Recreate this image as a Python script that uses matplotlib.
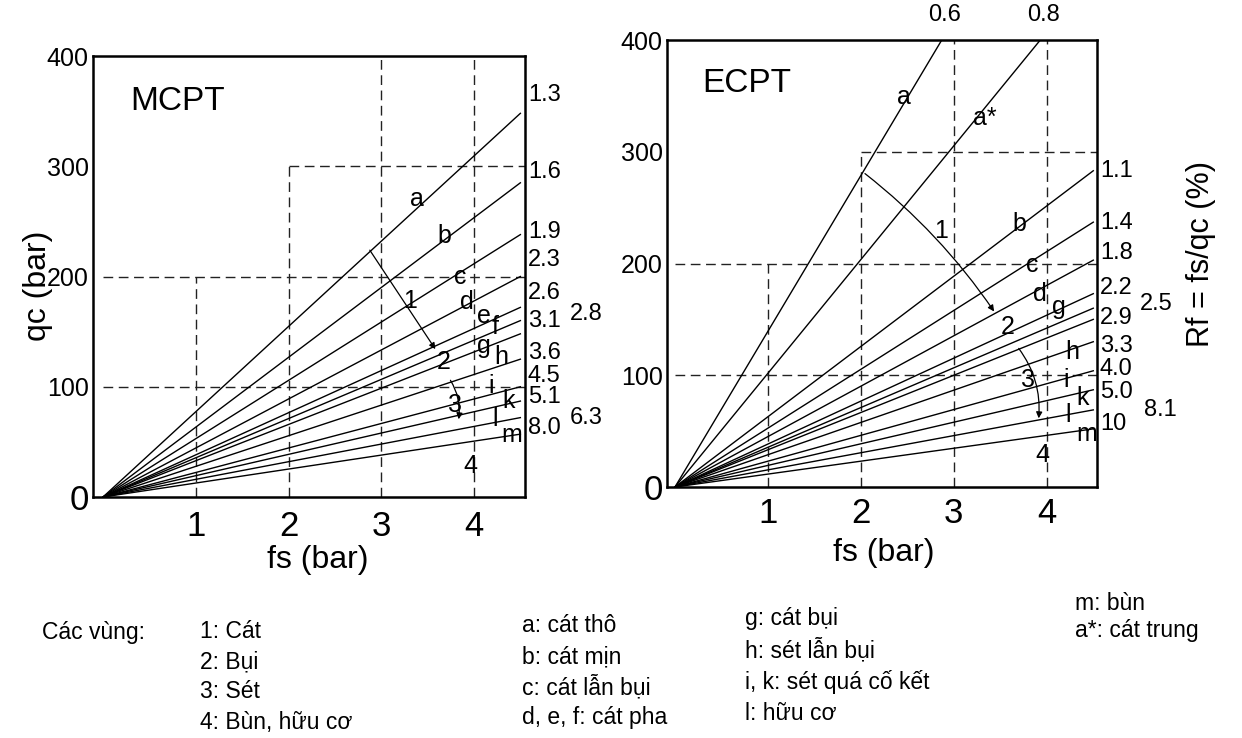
import matplotlib
matplotlib.use("Agg")
import matplotlib.pyplot as plt

plt.rcParams["font.family"] = ["Liberation Sans", "DejaVu Sans"]

# ── data ────────────────────────────────────────────────────────────
MCPT_RF = ["1.3", "1.6", "1.9", "2.3", "2.6", "2.8", "3.1", "3.6", "4.5", "5.1", "6.3", "8.0"]
MCPT_FS_END = [4.5] * 12
MCPT_QC_END = [348, 285, 238, 200, 172, 160, 148, 125, 100, 87, 72, 57]

ECPT_RF = ["0.6", "0.8", "1.1", "1.4", "1.8", "2.2", "2.5", "2.9", "3.3", "4.0", "5.0", "8.1", "10"]
ECPT_FS_END = [2.87, 3.93, 4.5, 4.5, 4.5, 4.5, 4.5, 4.5, 4.5, 4.5, 4.5, 4.5, 4.5]
ECPT_QC_END = [400, 400, 283, 237, 203, 173, 160, 150, 130, 104, 87, 69, 52]

MCPT_ZONES = ["a", "b", "c", "d", "e", "f", "g", "h", "i", "k", "l", "m"]
MCPT_ZONE_FS = [3.39, 3.68, 3.85, 3.92, 4.11, 4.23, 4.11, 4.29, 4.19, 4.37, 4.23, 4.41]
MCPT_ZONE_QC = [270, 237, 200, 177, 164, 154, 137, 127, 101, 87, 71, 56]

ECPT_ZONES = ["a", "a*", "b", "c", "d", "g", "h", "i", "k", "l", "m"]
ECPT_ZONE_FS = [2.46, 3.33, 3.71, 3.84, 3.93, 4.13, 4.27, 4.21, 4.38, 4.23, 4.43]
ECPT_ZONE_QC = [349, 330, 235, 199, 173, 161, 121, 96, 80, 64, 47]

REGIONS = ["1", "2", "3", "4"]
MCPT_REGION_FS = [3.31, 3.67, 3.79, 3.96]
MCPT_REGION_QC = [178, 122, 83, 28]
ECPT_REGION_FS = [2.86, 3.58, 3.80, 3.95]
ECPT_REGION_QC = [229, 143, 96, 29]

# arrow from region 1 to region 2, and from 2 to 3 (start fs, start qc, end fs, end qc)
MCPT_ARROWS = [(2.86, 226, 3.60, 132), (3.73, 108, 3.83, 68)]
ECPT_ARROWS = [(2.02, 282, 3.45, 155), (3.68, 126, 3.91, 59)]

# dashed guide lines: verticals (x, top), horizontals (y, start x)
GUIDE_V = [(1, 200), (2, 300), (3, 400), (4, 400)]
GUIDE_H = [(100, 0), (200, 0), (300, 2)]

X_TICKS = [1, 2, 3, 4]
Y_TICKS = [0, 100, 200, 300, 400]

LEGEND_COLS = [
    ["1: Cát", "2: Bụi", "3: Sét", "4: Bùn, hữu cơ"],
    ["a: cát thô", "b: cát mịn", "c: cát lẫn bụi", "d, e, f: cát pha"],
    ["g: cát bụi", "h: sét lẫn bụi", "i, k: sét quá cố kết", "l: hữu cơ"],
    ["m: bùn", "a*: cát trung"],
]

# label nudges (qc units) so the Rf numbers sit like in the scan
MCPT_NUDGE = {"1.3": 17, "1.6": 10, "1.9": 2, "2.3": 15, "2.6": 13, "2.8": 6, "3.1": 12,
              "3.6": 6, "4.5": 10, "5.1": 4, "6.3": 0, "8.0": 6}
MCPT_OUTER = {"2.8", "6.3"}
ECPT_NUDGE = {"1.1": 0, "1.4": -1, "1.8": 6, "2.2": 5, "2.5": 4, "2.9": 1, "3.3": -4,
              "4.0": 2, "5.0": -2, "8.1": 0, "10": 4}
ECPT_OUTER = {"2.5": 5.0, "8.1": 5.05}

fig = plt.figure(figsize=(12.42, 7.38), dpi=100)
ax1 = fig.add_axes([93 / 1242, 1 - 497 / 738, 432 / 1242, 441 / 738])
ax2 = fig.add_axes([667 / 1242, 1 - 487 / 738, 430 / 1242, 447 / 738])


def base(ax, xlim, title, title_xy, xpad):
    ax.set_xlim(*xlim)
    ax.set_ylim(0, 400)
    for s in ax.spines.values():
        s.set_linewidth(1.8)
    for x, top in GUIDE_V:
        ax.plot([x, x], [0, top], ls=(0, (7, 4)), color="#222", lw=1.0, zorder=1)
    for y, x0 in GUIDE_H:
        ax.plot([x0, xlim[1]], [y, y], ls=(0, (7, 4)), color="#222", lw=1.0, zorder=1)
    ax.set_xticks(X_TICKS)
    ax.set_xticklabels([str(t) for t in X_TICKS], fontsize=25)
    ax.set_yticks(Y_TICKS)
    ax.set_yticklabels([str(t) for t in Y_TICKS], fontsize=18)
    ax.get_yticklabels()[0].set_fontsize(25)
    ax.tick_params(length=0)
    ax.tick_params(axis="x", pad=xpad)
    ax.tick_params(axis="y", pad=3)
    ax.text(*title_xy, title, fontsize=24, ha="center", va="center")


def rays(ax, fs_end, qc_end):
    for fx, qy in zip(fs_end, qc_end):
        ax.plot([0, fx], [0, qy], color="black", lw=1.0, zorder=3)


def letters(ax, names, xs, ys, size=18):
    for t, x, y in zip(names, xs, ys):
        ax.text(x, y, t, fontsize=size, ha="center", va="center", zorder=4)


def arrows(ax, segs, rads):
    for (x0, y0, x1, y1), rad in zip(segs, rads):
        ax.annotate("", xy=(x1, y1), xytext=(x0, y0),
                    arrowprops=dict(arrowstyle="-|>", lw=0.9, color="black",
                                    mutation_scale=9,
                                    connectionstyle=f"arc3,rad={rad}"))


# ── MCPT ────────────────────────────────────────────────────────────
base(ax1, (-0.108, 4.55), "MCPT", (0.80, 359), 9)
rays(ax1, MCPT_FS_END, MCPT_QC_END)
for lab, qc in zip(MCPT_RF, MCPT_QC_END):
    x = 5.03 if lab in MCPT_OUTER else 4.58
    ax1.text(x, qc + MCPT_NUDGE[lab], lab, fontsize=17, ha="left", va="center", clip_on=False)
letters(ax1, MCPT_ZONES, MCPT_ZONE_FS, MCPT_ZONE_QC)
letters(ax1, REGIONS, MCPT_REGION_FS, MCPT_REGION_QC)
arrows(ax1, MCPT_ARROWS, [0.0, -0.2])

# ── ECPT ────────────────────────────────────────────────────────────
base(ax2, (-0.086, 4.54), "ECPT", (0.77, 361), 7)
rays(ax2, ECPT_FS_END, ECPT_QC_END)
for lab, fx, qc in zip(ECPT_RF, ECPT_FS_END, ECPT_QC_END):
    if qc >= 400:
        ax2.text(fx + 0.03, 422, lab, fontsize=17, ha="center", va="center", clip_on=False)
        continue
    x = ECPT_OUTER.get(lab, 4.57)
    ax2.text(x, qc + ECPT_NUDGE[lab], lab, fontsize=17, ha="left", va="center", clip_on=False)
letters(ax2, ECPT_ZONES, ECPT_ZONE_FS, ECPT_ZONE_QC)
letters(ax2, REGIONS, ECPT_REGION_FS, ECPT_REGION_QC)
arrows(ax2, ECPT_ARROWS, [-0.08, -0.2])

# axis titles
fig.text(318 / 1242, 1 - 560 / 738, "fs (bar)", fontsize=23, ha="center", va="center")
fig.text(884 / 1242, 1 - 553 / 738, "fs (bar)", fontsize=23, ha="center", va="center")
fig.text(38 / 1242, 1 - 286 / 738, "qc (bar)", fontsize=23, rotation=90, ha="center", va="center")
fig.text(1201 / 1242, 1 - 254 / 738, "Rf = fs/qc (%)", fontsize=22, rotation=90,
         ha="center", va="center")

# legend block under the charts (rows drift slightly with the scan tilt)
fig.text(42 / 1242, 1 - 632 / 738, "Các vùng:", fontsize=16.5, ha="left", va="center")
col_x = [200, 522, 745, 1075]
col_y0 = [632, 626, 619, 604]
col_step = [30, 30.5, 31.5, 26]
for cx, cy, step, items in zip(col_x, col_y0, col_step, LEGEND_COLS):
    for i, t in enumerate(items):
        fig.text(cx / 1242, 1 - (cy + i * step) / 738, t, fontsize=16.5, ha="left", va="center")

fig.savefig("out.png", dpi=100)
